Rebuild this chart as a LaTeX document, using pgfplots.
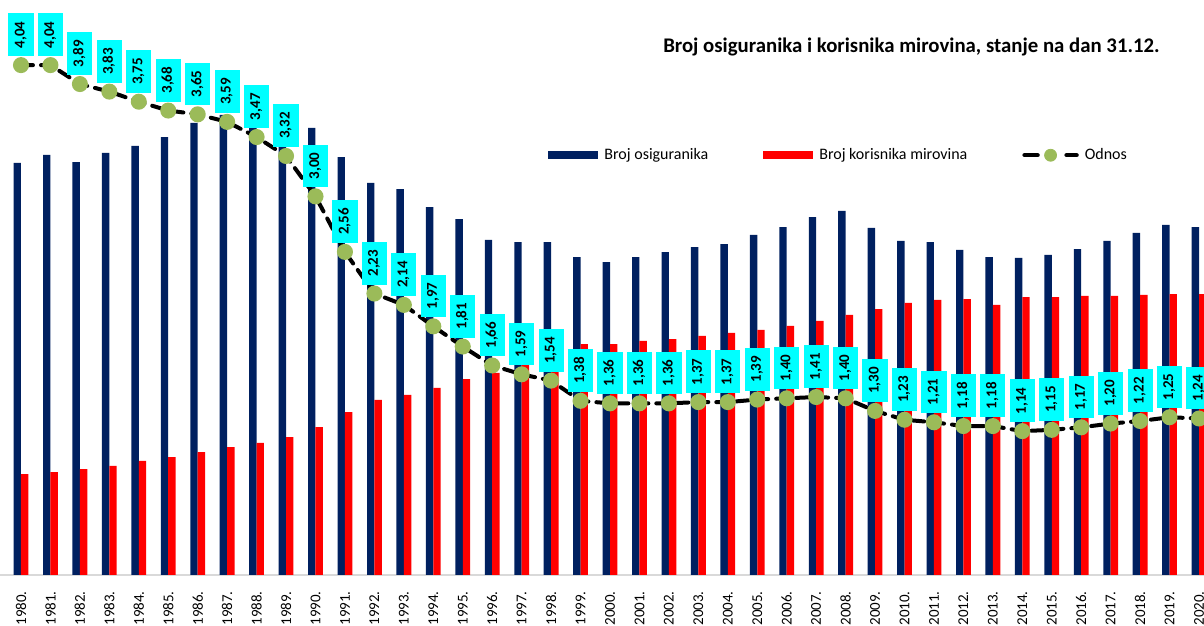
\documentclass[border=0pt]{standalone}
\usepackage{fontspec}
\setmainfont{Carlito}
\usepackage{pgfplots}
\pgfplotsset{compat=1.18}
\definecolor{navy}{HTML}{002060}
\definecolor{bred}{HTML}{FF0000}
\definecolor{lcyan}{HTML}{00FFFF}
\definecolor{mgreen}{HTML}{9BBB59}
\definecolor{lgray}{HTML}{D9D9D9}
\begin{document}
\begin{tikzpicture}
\useasboundingbox (0,-25.5pt) rectangle (602pt,287.5pt);
\clip (0,-25.5pt) rectangle (602pt,287.5pt);
\begin{axis}[
  at={(0,0)}, anchor=south west,
  scale only axis, width=602pt, height=287.5pt,
  xmin=-0.713, xmax=40.17, ymin=0, ymax=2530,
  axis x line=bottom, axis y line=none,
  x axis line style={lgray, line width=1pt, -},
  ybar=0pt, bar width=3.7pt,
  xtick={0,...,40}, major tick length=0pt,
  xticklabels={1980.,1981.,1982.,1983.,1984.,1985.,1986.,1987.,1988.,1989.,1990.,1991.,1992.,1993.,1994.,1995.,1996.,1997.,1998.,1999.,2000.,2001.,2002.,2003.,2004.,2005.,2006.,2007.,2008.,2009.,2010.,2011.,2012.,2013.,2014.,2015.,2016.,2017.,2018.,2019.,2020.},
  xticklabel style={rotate=90, anchor=east, font=\fontsize{7.5}{9}\selectfont, inner sep=0pt, xshift=-8pt},
  ytick=\empty,
  every axis title shift=0pt,
  title={\bfseries Broj osiguranika i korisnika mirovina, stanje na dan 31.12.},
  title style={at={(0.757,0.918)}, anchor=center, font=\fontsize{10.4}{12}\selectfont},
  legend columns=3,
  legend style={at={(0.4552,0.730)}, anchor=west, draw=none, fill=none,
    font=\fontsize{8}{9}\selectfont, inner sep=0pt,
    /tikz/every even column/.style={column sep=24.5pt},
    nodes={inner sep=3pt}},
]
\addplot[fill=navy, draw=none, area legend,
  legend image code/.code={\fill[navy] (0pt,-2pt) rectangle (25pt,2pt);}]
coordinates {
(0,1813)(1,1848)(2,1817)(3,1857)(4,1888)(5,1927)(6,1989)(7,2024)(8,2011)(9,2011)
(10,1967)(11,1839)(12,1725)(13,1698)(14,1619)(15,1566)(16,1474)(17,1465)(18,1465)(19,1399)
(20,1377)(21,1399)(22,1421)(23,1443)(24,1456)(25,1496)(26,1531)(27,1575)(28,1602)(29,1527)
(30,1470)(31,1465)(32,1430)(33,1399)(34,1395)(35,1408)(36,1434)(37,1470)(38,1505)(39,1540)(40,1531)};
\addlegendentry{Broj osiguranika}
\addplot[fill=bred, draw=none, area legend,
  legend image code/.code={\fill[bred] (0pt,-2pt) rectangle (25pt,2pt);}]
coordinates {
(0,444)(1,453)(2,466)(3,480)(4,502)(5,519)(6,541)(7,563)(8,581)(9,607)
(10,651)(11,717)(12,770)(13,792)(14,823)(15,862)(16,889)(17,924)(18,950)(19,1016)
(20,1016)(21,1030)(22,1038)(23,1052)(24,1065)(25,1078)(26,1096)(27,1118)(28,1144)(29,1170)
(30,1197)(31,1210)(32,1214)(33,1188)(34,1223)(35,1223)(36,1228)(37,1228)(38,1232)(39,1236)(40,1236)};
\addlegendentry{Broj korisnika mirovina}
\addlegendimage{legend image code/.code={
  \draw[black, line width=2.2pt, line cap=round] (1pt,0pt) -- (7.5pt,0pt);
  \draw[black, line width=2.2pt, line cap=round] (22pt,0pt) -- (27pt,0pt);
  \fill[mgreen] (14pt,0pt) circle (3pt);}}
\addlegendentry{Odnos}
\end{axis}
\begin{axis}[
  at={(0,0)}, anchor=south west,
  scale only axis, width=602pt, height=287.5pt,
  xmin=-0.713, xmax=40.17, ymin=0, ymax=4.556,
  axis lines=none, clip=false,
]
\addplot[black, line width=2pt, dash pattern=on 6pt off 4pt, line cap=round,
  mark=*, mark size=3pt, mark options={solid, fill=mgreen, draw=mgreen},
  point meta=y,
  nodes near coords={\pgfmathprintnumber[fixed,fixed zerofill,precision=2,use comma,assume math mode=true]{\pgfplotspointmeta}},
  every node near coord/.style={yshift=3.5pt, rotate=90, anchor=west, fill=lcyan, text=black,
    font=\bfseries\fontsize{7.5}{8}\selectfont, inner xsep=4pt, inner ysep=3.3pt,
    text height=4.8pt, text depth=1.2pt},
]
coordinates {
(0,4.04)(1,4.04)(2,3.89)(3,3.83)(4,3.75)(5,3.68)(6,3.65)(7,3.59)(8,3.47)(9,3.32)
(10,3.00)(11,2.56)(12,2.23)(13,2.14)(14,1.97)(15,1.81)(16,1.66)(17,1.59)(18,1.54)(19,1.38)
(20,1.36)(21,1.36)(22,1.36)(23,1.37)(24,1.37)(25,1.39)(26,1.40)(27,1.41)(28,1.40)(29,1.30)
(30,1.23)(31,1.21)(32,1.18)(33,1.18)(34,1.14)(35,1.15)(36,1.17)(37,1.20)(38,1.22)(39,1.25)(40,1.24)};
\end{axis}
\end{tikzpicture}
\end{document}
